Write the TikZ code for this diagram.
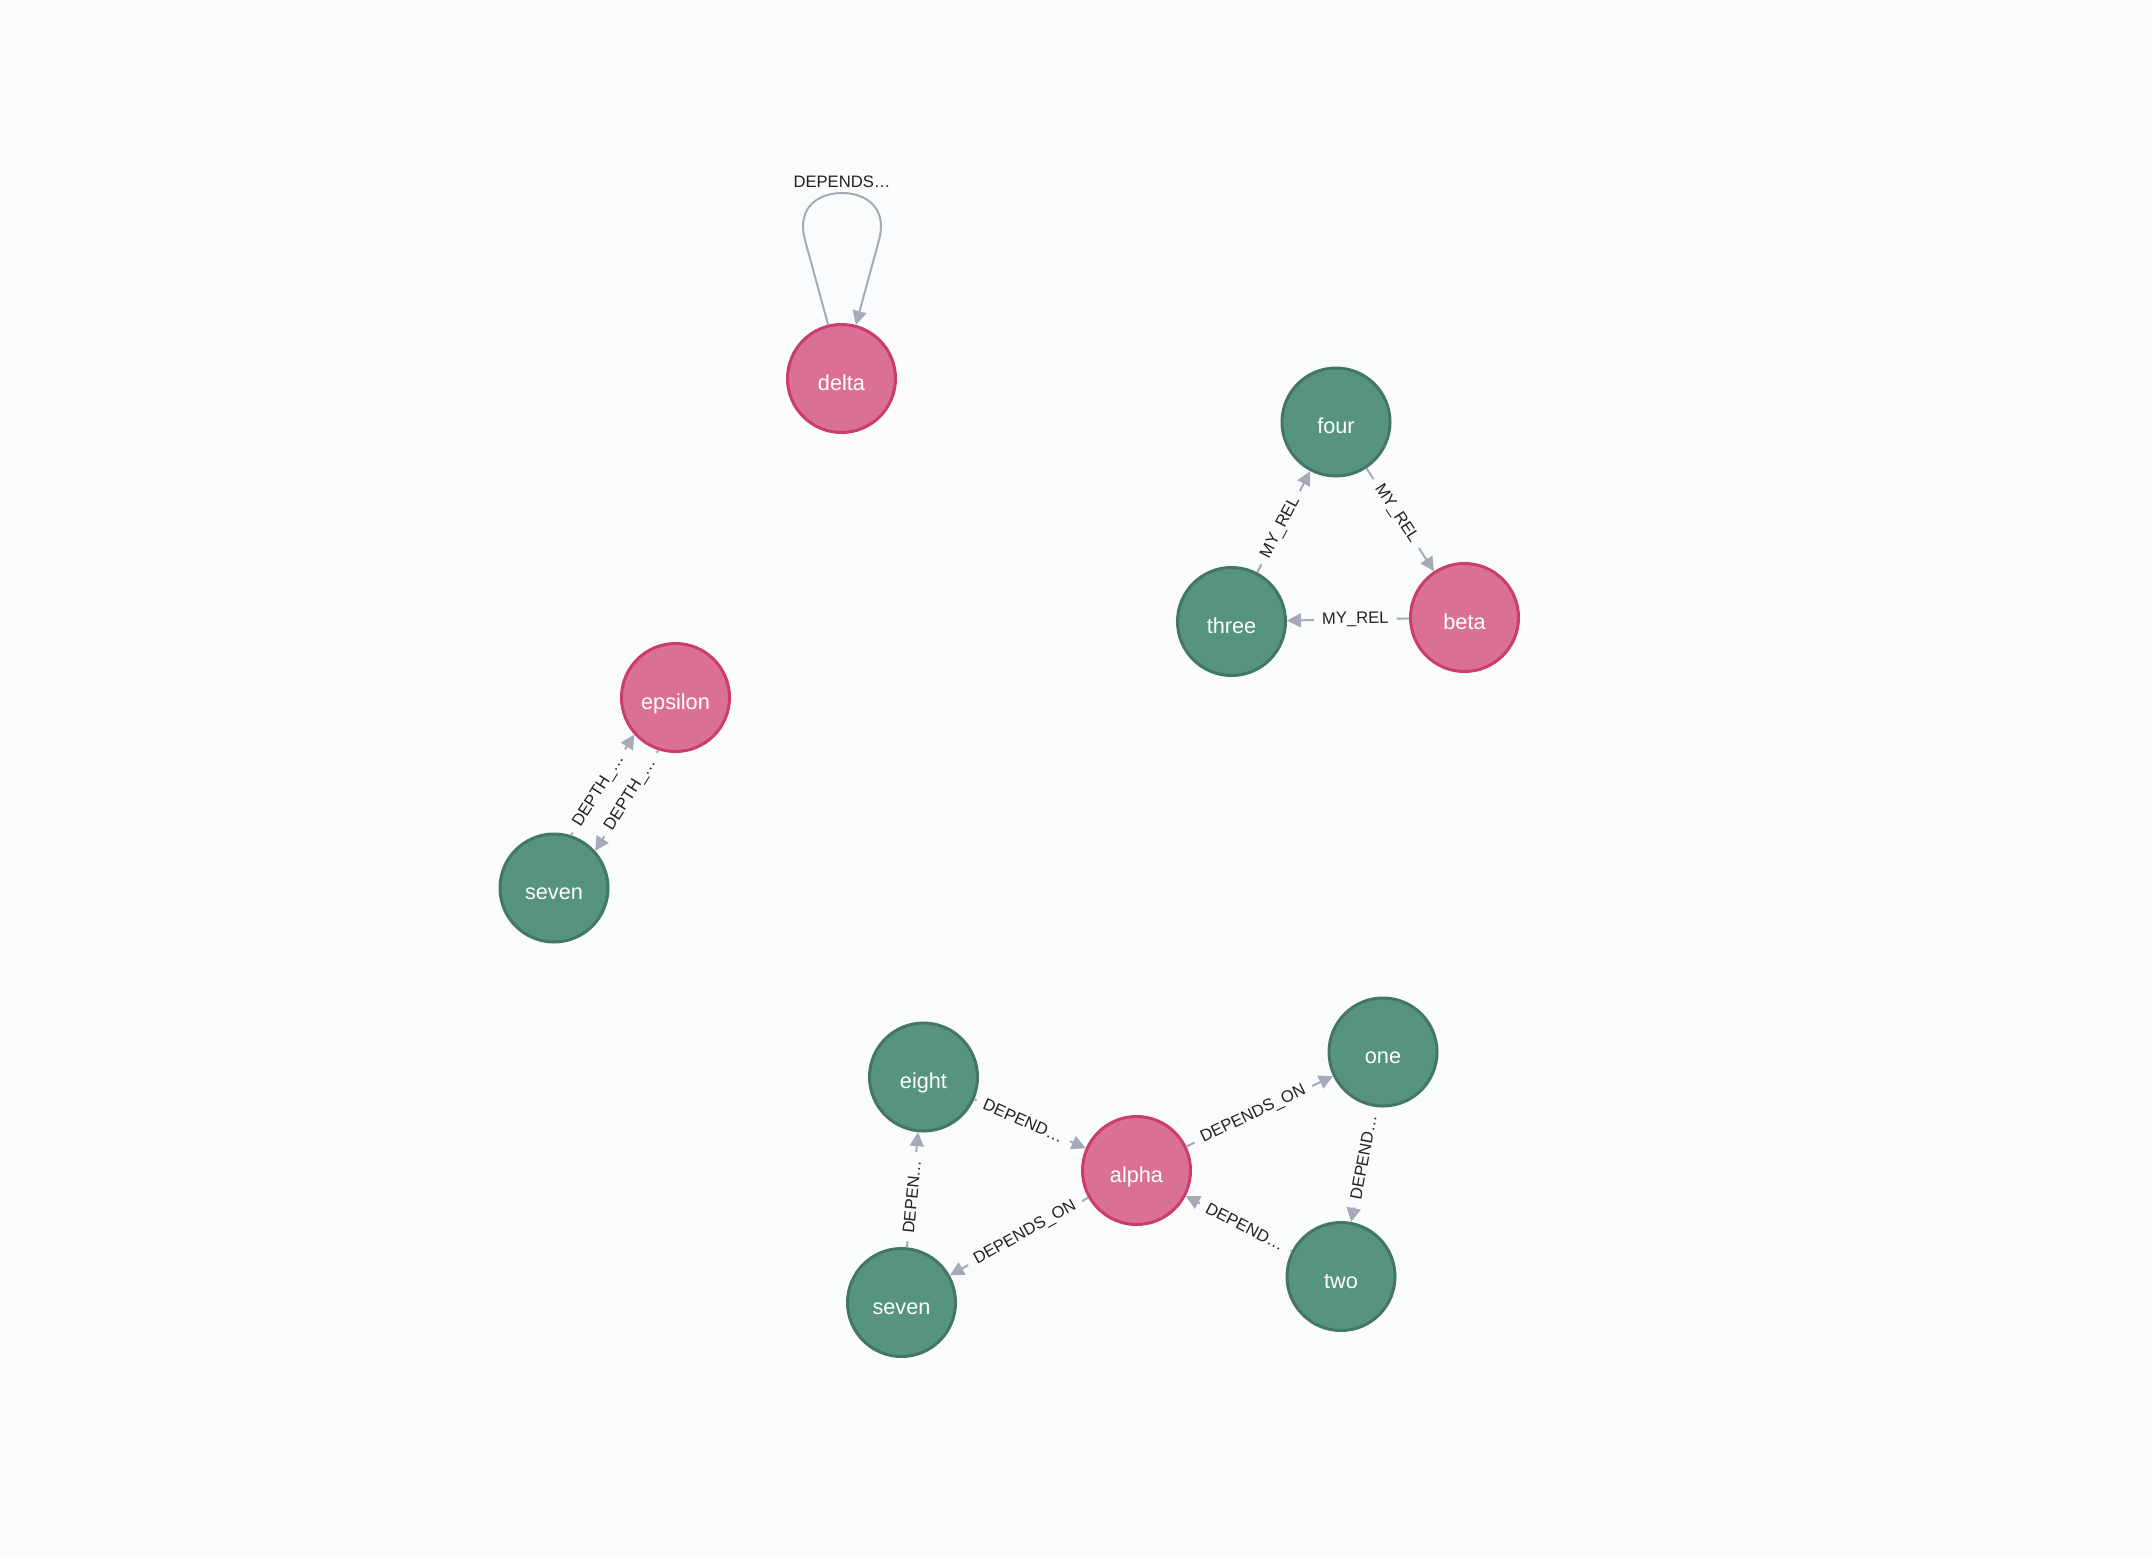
\documentclass[tikz,border=0pt]{standalone}
\usepackage{fontspec}
\setmainfont{Liberation Sans}
\usetikzlibrary{arrows.meta}

\definecolor{bg}{HTML}{F9FBFD}
\definecolor{pinkfill}{HTML}{DA7194}
\definecolor{pinkline}{HTML}{CC3C6C}
\definecolor{greenfill}{HTML}{569480}
\definecolor{greenline}{HTML}{447666}
\definecolor{edgecol}{HTML}{A5ABB6}
\definecolor{lbltext}{HTML}{222222}

\tikzset{
  basenode/.style={circle, minimum size=54pt, inner sep=0pt, line width=1.5pt,
    text=white, font=\fontsize{10.85}{12}\selectfont,
    text height=11.9pt, text depth=0pt},
  pinknode/.style={basenode, fill=pinkfill, draw=pinkline},
  greennode/.style={basenode, fill=greenfill, draw=greenline},
  rel/.style={draw=edgecol, line width=1pt, -{Triangle[length=7pt,width=7pt]}},
  lbl/.style={fill=bg, inner xsep=4pt, inner ysep=0.5pt, text=lbltext,
    font=\fontsize{8.3}{9}\selectfont, sloped, pos=0.44},
  freelbl/.style={inner sep=0pt, text=lbltext, font=\fontsize{8.3}{9}\selectfont},
}

\begin{document}
\begin{tikzpicture}[x=0.5pt, y=-0.5pt]
  % canvas
  \fill[bg] (0,0) rectangle (2152,1558);

  % nodes
  \node[pinknode]  (delta)   at (841.5,378.5)  {delta};
  \node[greennode] (four)    at (1336,422)     {four};
  \node[greennode] (three)   at (1231.5,621.5) {three};
  \node[pinknode]  (beta)    at (1464.5,617.5) {beta};
  \node[pinknode]  (epsilon) at (675.5,697.5)  {epsilon};
  \node[greennode] (sevenA)  at (554,888)      {seven};
  \node[greennode] (eight)   at (923.5,1077)   {eight};
  \node[pinknode]  (alpha)   at (1136.5,1170.5){alpha};
  \node[greennode] (one)     at (1383,1052)    {one};
  \node[greennode] (two)     at (1341,1276.5)  {two};
  \node[greennode] (sevenB)  at (901.5,1302.5) {seven};

  % self loop on delta
  \draw[rel] (delta.104.6) -- (805,240)
    .. controls (796,206) and (820,193) .. (842,193)
    .. controls (864,193) and (888,206) .. (879,240) -- (delta.75.4);
  \node[freelbl] (looplbl) at (842,182) {DEPENDS…};

  % triangle four / beta / three
  \draw[rel] (four)  -- node[lbl] {MY\_REL} (beta);
  \draw[rel] (three) -- node[lbl] {MY\_REL} (four);
  \draw[rel] (beta)  -- node[lbl] {MY\_REL} (three);

  % parallel pair between seven and epsilon
  \draw[rel] (sevenA.72.5)   -- node[lbl] {DEPTH\_…} (epsilon.222.5);
  \draw[rel] (epsilon.252.5) -- node[lbl] {DEPTH\_…} (sevenA.42.5);

  % cluster around alpha
  \draw[rel] (eight)  -- node[lbl] {DEPEND…}     (alpha);
  \draw[rel] (alpha)  -- node[lbl, pos=0.456] {DEPENDS\_ON} (one);
  \draw[rel] (one)    -- node[lbl] {DEPEND…}     (two);
  \draw[rel] (two)    -- node[lbl] {DEPEND…}     (alpha);
  \draw[rel] (alpha)  -- node[lbl, pos=0.456] {DEPENDS\_ON} (sevenB);
  \draw[rel] (sevenB) -- node[lbl] {DEPEN…}      (eight);
\end{tikzpicture}
\end{document}
